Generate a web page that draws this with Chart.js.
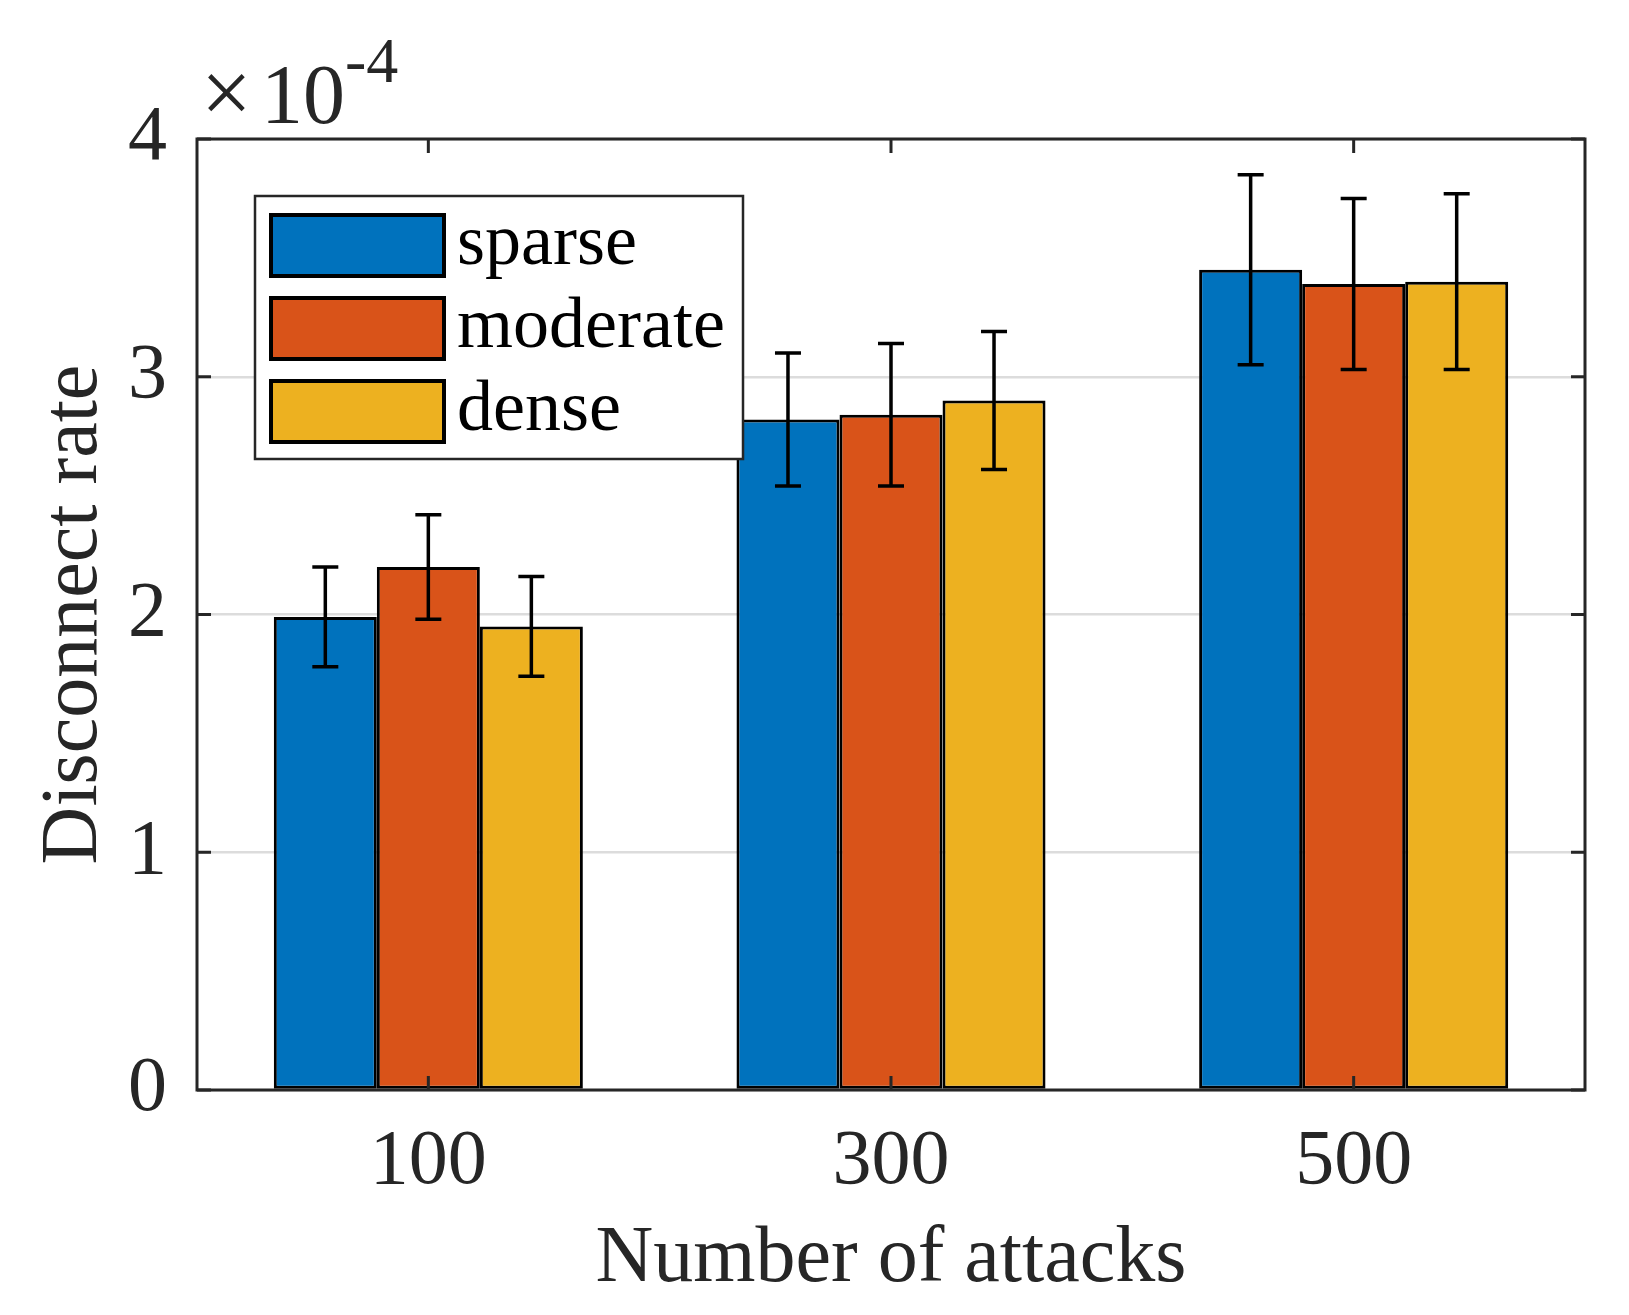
<!DOCTYPE html>
<html>
<head>
<meta charset="utf-8">
<script src="https://cdn.jsdelivr.net/npm/chart.js@4"></script>
<style>
  html, body { margin: 0; padding: 0; background: #fff; }
  #wrap { width: 1629px; height: 1315px; }
</style>
</head>
<body>
<div id="wrap"><canvas id="chart"></canvas></div>
<script>
const attacks = ["100", "300", "500"];
const seriesNames = ["sparse", "moderate", "dense"];
// disconnect rate (actual values, axis shows x10^-4)
const sparse = [1.99e-4, 2.82e-4, 3.45e-4];
const moderate = [2.20e-4, 2.84e-4, 3.39e-4];
const dense = [1.95e-4, 2.90e-4, 3.40e-4];
const sparseErr = [0.21e-4, 0.28e-4, 0.40e-4];
const moderateErr = [0.22e-4, 0.30e-4, 0.36e-4];
const denseErr = [0.21e-4, 0.29e-4, 0.37e-4];
const yTicks = [0, 1e-4, 2e-4, 3e-4, 4e-4];

const colors = ["#0072BD", "#D95319", "#EDB120"];
const axisCol = "#262626";
const serif = "'Liberation Serif', 'Times New Roman', serif";

const errs = [sparseErr, moderateErr, denseErr];

const errorBars = {
  id: "errorBars",
  afterDatasetsDraw(c) {
    const ctx = c.ctx, y = c.scales.y;
    ctx.save();
    ctx.strokeStyle = "#000";
    ctx.lineWidth = 3.5;
    c.data.datasets.forEach((ds, i) => {
      c.getDatasetMeta(i).data.forEach((bar, j) => {
        const v = ds.data[j], e = errs[i][j];
        const yt = y.getPixelForValue(v + e), yb = y.getPixelForValue(v - e);
        ctx.beginPath();
        ctx.moveTo(bar.x, yt); ctx.lineTo(bar.x, yb);
        ctx.moveTo(bar.x - 13, yt); ctx.lineTo(bar.x + 13, yt);
        ctx.moveTo(bar.x - 13, yb); ctx.lineTo(bar.x + 13, yb);
        ctx.stroke();
      });
    });
    ctx.restore();
  },
};

const frame = {
  id: "frame",
  afterDraw(c) {
    const ctx = c.ctx, a = c.chartArea, x = c.scales.x, y = c.scales.y;
    ctx.save();
    ctx.strokeStyle = axisCol;
    ctx.lineWidth = 3;
    ctx.beginPath();
    x.ticks.forEach((t, i) => {
      const px = x.getPixelForTick(i);
      ctx.moveTo(px, a.bottom); ctx.lineTo(px, a.bottom - 14);
      ctx.moveTo(px, a.top); ctx.lineTo(px, a.top + 14);
    });
    y.ticks.forEach((t, i) => {
      const py = y.getPixelForValue(t.value);
      ctx.moveTo(a.left, py); ctx.lineTo(a.left + 14, py);
      ctx.moveTo(a.right, py); ctx.lineTo(a.right - 14, py);
    });
    ctx.stroke();
    ctx.strokeRect(a.left, a.top, a.right - a.left, a.bottom - a.top);

    // exponent label
    ctx.fillStyle = axisCol;
    ctx.textBaseline = "alphabetic";
    ctx.textAlign = "left";
    ctx.font = "90px " + serif;
    ctx.fillText("\u00d7", a.left + 4, a.top - 16);
    ctx.font = "84px " + serif;
    ctx.fillText("10", a.left + 64, a.top - 16);
    ctx.font = "64px " + serif;
    ctx.fillText("-4", a.left + 148, a.top - 57);

    // legend
    const lx = 255, ly = 196, lw = 488, lh = 263;
    ctx.fillStyle = "#fff";
    ctx.fillRect(lx, ly, lw, lh);
    ctx.lineWidth = 2.5;
    ctx.strokeStyle = axisCol;
    ctx.strokeRect(lx, ly, lw, lh);
    ctx.font = "72px " + serif;
    ctx.textBaseline = "middle";
    c.data.datasets.forEach((ds, i) => {
      const ry = 215 + i * 83;
      ctx.fillStyle = ds.backgroundColor;
      ctx.fillRect(271, ry, 173, 61);
      ctx.lineWidth = 4;
      ctx.strokeStyle = "#000";
      ctx.strokeRect(271, ry, 173, 61);
      ctx.fillStyle = "#000";
      ctx.fillText(ds.label, 457, ry + 30);
    });
    ctx.restore();
  },
};

new Chart(document.getElementById("chart"), {
  type: "bar",
  data: {
    labels: attacks,
    datasets: [sparse, moderate, dense].map((d, i) => ({
      label: seriesNames[i],
      data: d,
      backgroundColor: colors[i],
      borderColor: "#000",
      borderWidth: 3,
      borderSkipped: false,
      categoryPercentage: 0.668,
      barPercentage: 1,
    })),
  },
  options: {
    responsive: true,
    maintainAspectRatio: false,
    animation: false,
    devicePixelRatio: 1,
    layout: { padding: { left: 0, right: 44, top: 139, bottom: 0 } },
    plugins: { legend: { display: false }, tooltip: { enabled: false } },
    scales: {
      x: {
        grid: { display: false, drawTicks: false },
        border: { display: false },
        ticks: { color: axisCol, font: { family: serif, size: 78 }, padding: 26 },
        title: { display: true, text: "Number of attacks", color: axisCol, font: { family: serif, size: 80 }, padding: { top: 0, bottom: 7 } },
        afterFit: (s) => { s.height = 225; },
      },
      y: {
        min: 0,
        max: 4e-4,
        afterBuildTicks: (s) => { s.ticks = yTicks.map((v) => ({ value: v })); },
        grid: { color: "#dcdcdc", lineWidth: 2.5, drawTicks: false },
        border: { display: false },
        ticks: {
          color: axisCol,
          font: { family: serif, size: 78 },
          padding: 30,
          callback: (v) => String(Math.round(v * 1e4)),
        },
        title: { display: true, text: "Disconnect rate", color: axisCol, font: { family: serif, size: 80 }, padding: { top: 27, bottom: 0 } },
        afterFit: (s) => { s.width = 197; },
      },
    },
  },
  plugins: [errorBars, frame],
});
</script>
</body>
</html>
